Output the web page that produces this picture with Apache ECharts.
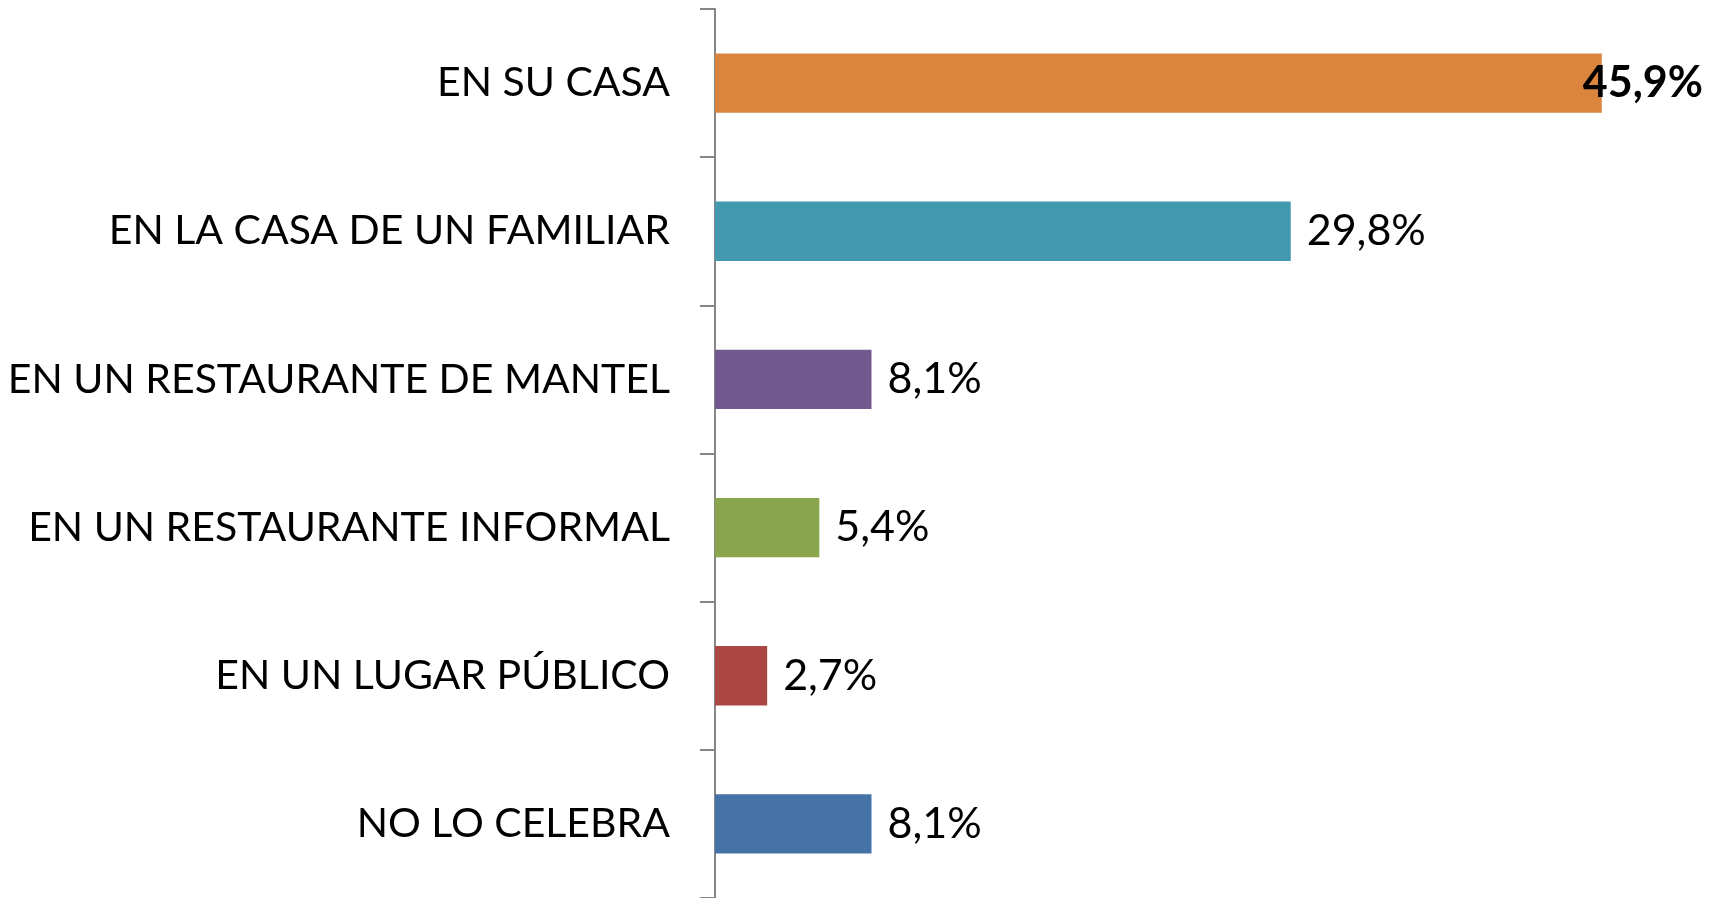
<!DOCTYPE html>
<html>
<head>
<meta charset="utf-8">
<script src="https://cdn.jsdelivr.net/npm/echarts@6/dist/echarts.min.js"></script>
<style>
  html, body { margin: 0; padding: 0; background: #fff; }
  #chart { width: 1721px; height: 898px; }
</style>
</head>
<body>
<div id="chart"></div>
<script>
  var categories = ['EN SU CASA', 'EN LA CASA DE UN FAMILIAR', 'EN UN RESTAURANTE DE MANTEL',
    'EN UN RESTAURANTE INFORMAL', 'EN UN LUGAR PÚBLICO', 'NO LO CELEBRA'];
  var values = [45.9, 29.8, 8.1, 5.4, 2.7, 8.1];
  var colors = ['#DB843D', '#4198AF', '#71588F', '#89A54E', '#AA4643', '#4572A7'];

  var fontName = 'Lato';
  var data = [];
  for (var i = 0; i < values.length; i++) {
    var item = { value: values[i], itemStyle: { color: colors[i] } };
    if (i === 0) {
      // la primera etiqueta va en negrita y se monta sobre la barra
      item.label = { fontWeight: 'bold', distance: -19 };
    }
    data.push(item);
  }

  var myChart = echarts.init(document.getElementById('chart'));
  myChart.setOption({
    animation: false,
    grid: { left: 715, right: 40, top: 9, height: 892, containLabel: false },
    xAxis: {
      type: 'value', min: 0, max: 50, show: false
    },
    yAxis: {
      type: 'category',
      inverse: true,
      data: categories,
      axisLine: { lineStyle: { color: '#868686', width: 2 } },
      axisTick: { show: true, length: 15, lineStyle: { color: '#868686', width: 2 } },
      axisLabel: { margin: 45, color: '#000', fontSize: 41, fontFamily: fontName, padding: [6, 0, 0, 0] }
    },
    series: [{
      type: 'bar',
      data: data,
      barCategoryGap: '60%',
      label: {
        show: true,
        position: 'right',
        distance: 16,
        color: '#000',
        fontSize: 43,
        fontFamily: fontName,
        padding: [6, 0, 0, 0],
        formatter: function (p) { return p.value.toFixed(1).replace('.', ',') + '%'; }
      }
    }]
  });
</script>
</body>
</html>
